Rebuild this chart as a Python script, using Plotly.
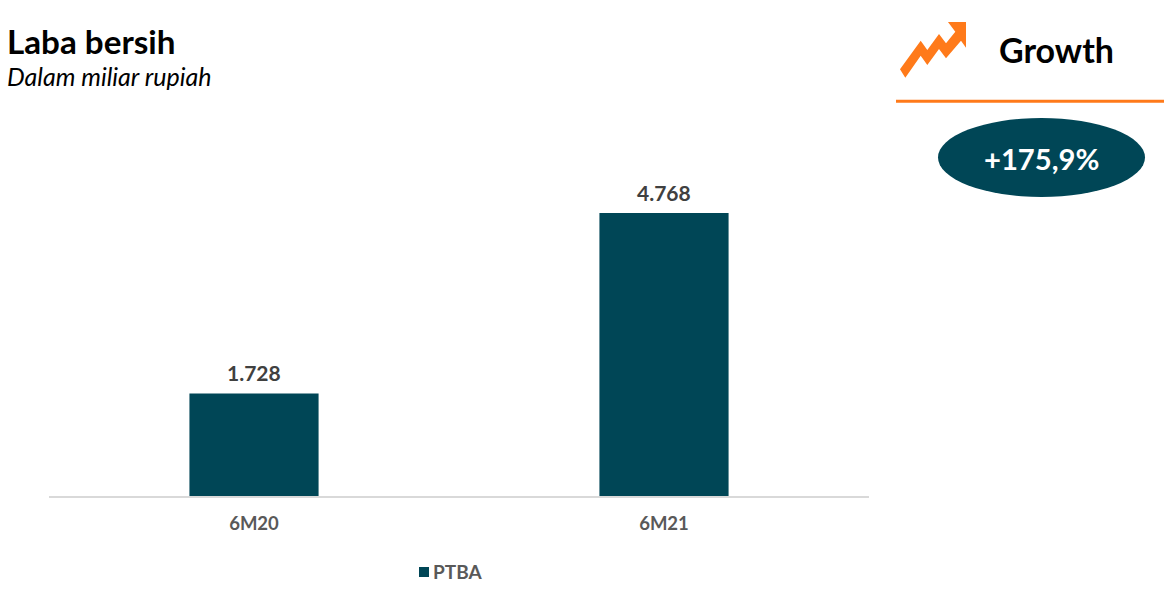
import plotly.graph_objects as go

categories = ["6M20", "6M21"]
series_name = "PTBA"
laba_bersih = [1728, 4768]
value_labels = ["1.728", "4.768"]
growth_label = "+175,9%"

W, H = 1166, 602
L, R, T, B = 49, 869, 140, 496
TEAL = "#004656"
ORANGE = "#FF7A1A"


def px(x):
    return (x - L) / (R - L)


def py(y):
    return (B - y) / (B - T)


arrow_pts = [(900, 69.3), (920.7, 40.7), (927.3, 50), (939, 34), (946, 43.3),
             (955.3, 31.7), (948, 22), (966, 22), (966, 47.7), (961, 40.7),
             (946, 58.3), (939, 49), (927.3, 65), (920.7, 55.7), (905.3, 77.7)]
arrow_path = "M" + "L".join(f"{px(a):.5f},{py(b):.5f}" for a, b in arrow_pts) + "Z"

fig = go.Figure(go.Bar(
    x=categories, y=laba_bersih, name=series_name,
    marker=dict(color=TEAL, line=dict(width=0)),
    hoverinfo="x+y",
))

for cat, val, lab in zip(categories, laba_bersih, value_labels):
    fig.add_annotation(x=cat, y=val, text=lab, showarrow=False, yanchor="bottom", yshift=6.5,
                       font=dict(family="Lato", size=21, color="#404040", weight=700))


def note(x, y, text, size, color, weight=400, anchor="left", style="normal"):
    fig.add_annotation(xref="paper", yref="paper", x=px(x), y=py(y), text=text,
                       showarrow=False, xanchor=anchor, yanchor="middle", borderpad=0,
                       font=dict(family="Lato", size=size, color=color, weight=weight, style=style))


note(6, 41, "Laba bersih", 33.2, "#000000", 700)
note(6, 76, "Dalam miliar rupiah", 25, "#000000", 400, style="italic")
note(1056, 50, "Growth", 34, "#000000", 700, anchor="center")
note(1041.5, 158, growth_label, 29.2, "#FFFFFF", 700, anchor="center")
note(432, 571, series_name, 19, "#595959", 700)

fig.update_layout(
    width=W, height=H, autosize=False,
    paper_bgcolor="white", plot_bgcolor="white",
    margin=dict(l=L, r=W - R, t=T, b=H - B, pad=0),
    bargap=0.685, showlegend=False,
    xaxis=dict(showgrid=False, ticks="", showline=True, linecolor="#D9D9D9", linewidth=2,
               tickfont=dict(family="Lato", size=18.5, color="#595959", weight=700), ticklabelstandoff=10),
    yaxis=dict(range=[0, 6000], visible=False, showgrid=False),
    shapes=[
        dict(type="path", xref="paper", yref="paper", path=arrow_path,
             fillcolor=ORANGE, line=dict(width=0)),
        dict(type="line", xref="paper", yref="paper", x0=px(896), x1=px(1164), y0=py(101.3), y1=py(101.3),
             line=dict(color=ORANGE, width=3)),
        dict(type="circle", xref="paper", yref="paper", x0=px(938), x1=px(1145), y0=py(197), y1=py(118),
             fillcolor=TEAL, line=dict(width=0)),
        dict(type="rect", xref="paper", yref="paper", x0=px(419), x1=px(429), y0=py(577), y1=py(567),
             fillcolor=TEAL, line=dict(width=0)),
    ],
)
fig.write_html("out.html", config={"displayModeBar": False},
               post_script="document.body.style.margin='0';document.body.style.overflow='hidden';")
